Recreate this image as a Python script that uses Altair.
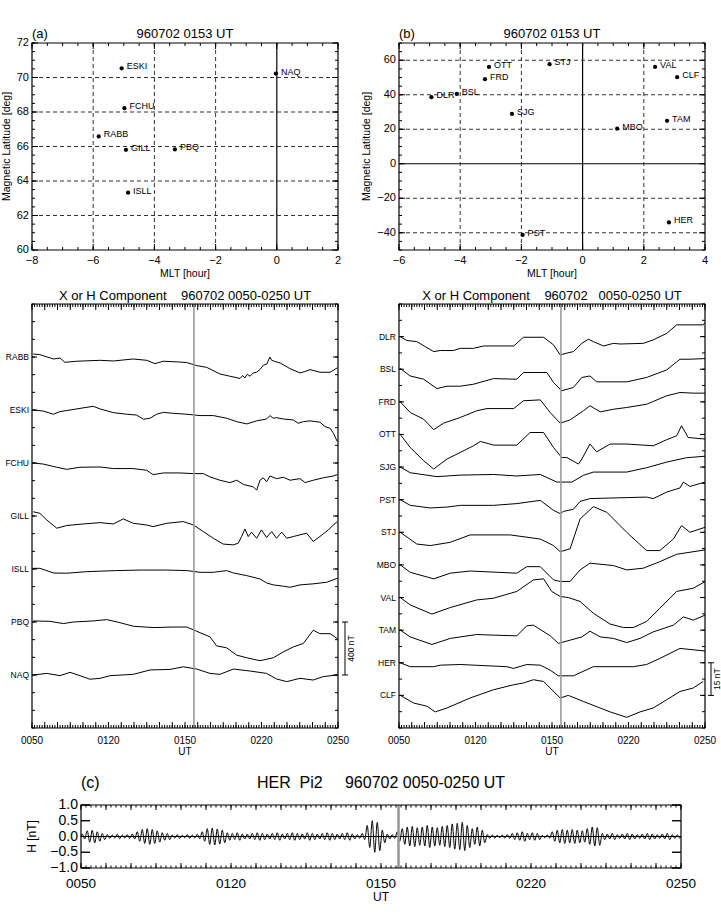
import altair as alt
import pandas as pd

FONT = "Liberation Sans"

# ---------------- station positions ----------------
A_STATIONS = ["ESKI", "NAQ", "FCHU", "RABB", "GILL", "PBQ", "ISLL"]
A_MLT = [-5.07, -0.03, -4.98, -5.82, -4.93, -3.33, -4.86]
A_MLAT = [70.53, 70.23, 68.22, 66.58, 65.81, 65.83, 63.32]

B_STATIONS = ["OTT", "STJ", "FRD", "DLR", "BSL", "SJG", "VAL", "CLF", "TAM", "MBO", "HER", "PST"]
B_MLT = [-3.06, -1.08, -3.19, -4.94, -4.11, -2.31, 2.37, 3.09, 2.76, 1.13, 2.82, -1.96]
B_MLAT = [56.1, 57.7, 49.0, 38.6, 40.5, 28.9, 56.1, 50.2, 24.9, 20.3, -34.0, -41.3]

# ---------------- H traces: (minutes after 0050 UT, deviation in nT) ----------------
RABB = [(0.5, 22), (3.1, 18), (8.4, -15), (11.0, -8), (12.9, -40), (17.5, -32), (26.7, -25), (31.9, -30),
        (39.7, -15), (45.0, -25), (48.2, -50), (51.5, -32), (58.0, -38), (60.7, -42), (64.6, -65), (68.5, -78),
        (73.7, -128), (77.6, -145), (81.6, -162), (82.6, -140), (83.5, -158), (84.4, -130), (85.5, -145),
        (86.8, -120), (88.1, -115), (89.4, -95), (90.7, -62), (92.0, -55), (93.3, 0), (94.0, -25), (95.0, -32),
        (97.3, -45), (101.2, -88), (105.1, -120), (107.0, -110), (109.0, -95), (112.9, -115), (116.9, -115),
        (119.7, -82)]
ESKI = [(0.5, 0), (4.4, -8), (8.4, -32), (11, -12), (14.9, 0), (18.8, 12), (24, 28), (26.7, 8), (31.9, -20),
        (37.1, -32), (41, -38), (43.7, -70), (46.3, -62), (48.9, -32), (51.5, -18), (55.4, -25), (60.7, -32),
        (65.9, -42), (71.1, -42), (76.3, -62), (80.3, -88), (84.2, -105), (88.1, -82), (92, -68), (93.3, -42),
        (94.6, -62), (95.9, -58), (98.6, -68), (102.5, -75), (104.4, -100), (106.4, -88), (109, -82),
        (112.9, -92), (114.9, -125), (116.9, -138), (118.2, -175), (119.7, -238)]
FCHU = [(0.5, 0), (4.4, -8), (9.7, -32), (13.6, -48), (18.8, -32), (26.7, -30), (31.9, -42), (39.7, -42),
        (45, -55), (47.5, -88), (51.5, -75), (58, -75), (63.3, -80), (67.2, -80), (69.8, -105), (73.7, -130),
        (77.6, -148), (80.3, -130), (82.9, -162), (86.8, -180), (88.1, -205), (89.4, -130), (90.7, -112),
        (92, -142), (93.3, -98), (95.9, -118), (98.6, -108), (101.2, -130), (105.1, -118), (107.1, -148),
        (110.3, -130), (114.2, -112), (118.2, -98), (119.7, -88)]
GILL = [(0.5, 32), (3.1, 20), (5.8, -30), (9.7, -92), (13.6, -72), (20.1, -60), (26.7, -50), (31.9, -60),
        (35.8, -22), (39.7, -55), (45, -68), (47.5, -80), (52.8, -55), (59.3, -42), (63.3, -68), (67.2, -118),
        (71.1, -168), (75, -212), (79, -218), (80.9, -205), (82.2, -155), (83.5, -98), (84.8, -155),
        (86.1, -122), (88.1, -168), (90, -105), (92, -162), (94, -118), (95.9, -168), (97.9, -122),
        (99.9, -168), (102.5, -155), (105.1, -142), (107.7, -130), (110.3, -192), (112.9, -155),
        (116.2, -105), (118.2, -68), (119.7, -42)]
ISLL = [(0.5, 5), (3.1, 5), (8.4, -30), (13.6, -32), (21.4, -20), (33.2, -12), (42.4, -8), (52.8, -8),
        (60.7, -12), (65.9, -25), (71.1, -25), (76.3, -12), (79, -30), (84.2, -50), (89.4, -75), (92, -105),
        (94.6, -120), (98.6, -130), (101.2, -138), (105.1, -120), (110.3, -112), (115.6, -100), (119.7, -70)]
PBQ = [(0.5, 8), (7.1, 5), (12.3, -12), (16.2, 0), (24, 8), (29.3, 18), (34.5, -5), (39.7, -32), (47.5, -42),
       (55.4, -38), (60.7, -38), (64.6, -70), (69.8, -112), (72.4, -180), (76.3, -195), (80.3, -250),
       (84.2, -270), (89.4, -292), (94.6, -270), (98.6, -225), (102.5, -188), (106.4, -162), (110.3, -62),
       (112.9, -88), (116.9, -88), (119.7, -125)]
NAQ = [(0.5, 0), (5.8, 12), (11, -5), (14.9, 20), (18.8, -5), (22.7, -32), (26.7, -25), (30.6, -5), (39.7, 5),
       (46.3, 38), (54.1, 42), (59.3, 62), (64.6, 45), (69.8, 12), (73.7, 5), (79, 45), (85.5, 30), (92, 12),
       (95.9, -30), (99.9, -50), (105.1, -25), (110.3, -38), (114.2, -12), (119.7, 0)]

DLR = [(0.5, 0), (3.1, -1.8), (7, -2.3), (10.3, -4.6), (13.6, -6.9), (16.2, -6.4), (21.4, -6.4), (24, -5.4),
       (29.2, -5.4), (33.2, -4.3), (45, -4.3), (48.8, -0.3), (56.7, -0.3), (60.6, -3.8), (63.2, -8.4),
       (65.8, -7.6), (68.4, -6.9), (71.7, -3.1), (74.3, -1.2), (76.2, -2.3), (80.2, -4.3), (84.1, -3.1),
       (86.7, -3.4), (95.8, -3.1), (99.7, -1.5), (105, 1.5), (108.9, 5.4), (119.3, 5.4), (120, 6.4)]
BSL = [(0.5, 0.3), (4.4, -3.1), (9.7, -4.6), (14.9, -8.9), (18.8, -7.8), (24, -7.8), (29.2, -6.9), (37.1, -4.3),
       (46.2, -4.6), (48.8, -1.5), (58, -1.5), (60.6, -6.1), (63.8, -9.9), (68.4, -8.4), (71.7, -3.8),
       (74.9, -3.1), (77.5, -5.8), (89.3, -5.8), (97.1, -3.8), (105, -0.3), (110.2, 4.6), (114.1, 4.6),
       (120, 4.9)]
FRD = [(0.5, 0), (4.4, -4.9), (9.7, -8), (13.6, -12.8), (17.5, -9.8), (24, -7.2), (30.5, -4.1), (34.5, -3.1),
       (45, -3.1), (48.8, 0.5), (55.4, 0.9), (59.3, -4.9), (63.2, -9.8), (67.1, -8.3), (72.3, -4.1),
       (74.9, -1.8), (78.9, -4.6), (84.1, -3.4), (89.3, -2.6), (97.1, -1.1), (105, 2.8), (110.2, 4.3),
       (115.4, 4), (120, 4)]
OTT = [(0.5, 0), (4.4, -6), (9.7, -12.1), (13.6, -15.9), (18.8, -11.3), (24, -8.3), (29.2, -5.2), (31.9, -3.2),
       (37.1, -4.9), (46.2, -4.9), (51.4, 0.9), (56.7, 0.9), (60.6, -6), (63.8, -10.6), (65.8, -10.6),
       (70.4, -13.6), (71.7, -11.3), (74.9, -4.4), (77.5, -8), (82.8, -4.4), (89.3, -4.4), (99.7, -5.2),
       (105, -2.4), (108.9, -0.6), (110.8, 4), (113.4, -1.4), (120, -2.1)]
SJG = [(0.5, 0), (4.4, -2.6), (14.9, -4.4), (24, -3.7), (37.1, -3.4), (46.2, -4.1), (55.4, -3.4), (61.9, -6.9),
       (67.8, -6.9), (72.3, -3.8), (76.2, -2.3), (89.3, -2.3), (97.1, -0.3), (105, 2.3), (112.8, 4.3), (120, 5)]
PST = [(0.5, 0), (4.4, -2.6), (12.3, -3.8), (18.8, -3.4), (24, -2.6), (37.1, -2.6), (46.2, -1.8), (55.4, -0.3),
       (60.6, -4.9), (63.2, -6.4), (64.5, -5.4), (68.4, -4.4), (71, -0.8), (74.9, 0.5), (84.1, 0.8), (97.1, 1.2),
       (99.7, 0.5), (105, 3.5), (110.2, 5.4), (111.5, 8.1), (114.1, 6.1), (120, 8.1)]
STJ = [(0.5, 0), (7, -5.4), (12.3, -6.1), (20.1, -4.6), (27.9, -1.2), (43.6, -1.2), (55.4, -3.1), (60.6, -6.1),
       (63.2, -8.9), (67.1, -7.6), (71, 6.1), (76.2, 11.8), (81.5, 9.2), (89.3, 0), (97.1, -8.4), (102.3, -8.4),
       (107.6, -3.1), (110.8, 3.1), (114.1, 0), (120, 2.3)]
MBO = [(0.5, 0), (4.4, -3.4), (13.6, -6.4), (20.1, -3.8), (27.9, -2.8), (46.2, -3.8), (50.1, -0.8), (55.4, -0.8),
       (60.6, -6.9), (63.2, -7.6), (67.1, -7.6), (71, -2.3), (74.9, 0.8), (84.1, -0.3), (89.3, -2.3),
       (95.8, -1.5), (102.3, 1.5), (108.9, 4.9), (120, 6.9)]
VAL = [(0.5, 0), (4.4, -3.4), (12.9, -7.6), (20.1, -4.6), (30.5, -1.1), (37.1, -0.3), (46.2, 2.8), (52.7, 8.1),
       (56.7, 8.6), (59.9, 2.8), (63.2, 0.5), (66.4, 0), (71, -1.8), (76.2, -7.2), (82.8, -12.2), (88, -13.8),
       (91.9, -13.8), (97.1, -11), (102.3, -4.9), (108.9, 2.8), (115.4, 4.3), (120, 7.3)]
TAM = [(0.5, 0), (4.4, -3.1), (12.9, -6.6), (20.1, -3.8), (30.5, -2), (37.1, -2.3), (46.2, -2.6), (50.1, 2),
       (52.7, 2.3), (59.3, -2.6), (62.5, -6.1), (67.1, -4.6), (71.7, -3.1), (74.9, -0.5), (78.9, -3.1),
       (84.1, -3.8), (89.3, -5.7), (94.5, -3.8), (99.7, -0.8), (107.6, 2.3), (111.5, 6.1), (115.4, 4.6),
       (120, 6.9)]
HER = [(0.5, 0), (4.4, -1.8), (13.6, -1.8), (16.2, -1.1), (24, -0.8), (42.3, -1.8), (44.9, -2.6), (50.1, -0.8),
       (55.4, -1.1), (59.3, -3.4), (62.5, -6), (68.4, -6), (76.2, -1.8), (91.9, -1.8), (97.1, -0.8),
       (102.3, 2), (110.2, 6.6), (120, 5.4)]
CLF = [(0.5, 0), (5.7, -3.5), (11, -5), (14.2, -7.6), (18.8, -5.8), (27.9, -1.2), (37.1, 2.6), (45, 4.9),
       (48.8, 5.7), (52.7, 7.2), (56.7, 6.4), (63.2, -1.2), (66.4, 0), (72.3, -2.8), (82.8, -7.6), (89.3, -10.1),
       (94.5, -7.6), (99.7, -5.8), (105, -2), (110.2, 1.8), (115.4, 3.4), (119.3, 6.4)]

LEFT_ORDER = ["RABB", "ESKI", "FCHU", "GILL", "ISLL", "PBQ", "NAQ"]
LEFT_TRACES = [RABB, ESKI, FCHU, GILL, ISLL, PBQ, NAQ]
RIGHT_ORDER = ["DLR", "BSL", "FRD", "OTT", "SJG", "PST", "STJ", "MBO", "VAL", "TAM", "HER", "CLF"]
RIGHT_TRACES = [DLR, BSL, FRD, OTT, SJG, PST, STJ, MBO, VAL, TAM, HER, CLF]
LEFT_STEP_NT = 400
RIGHT_STEP_NT = 15

# Pi2 band-pass amplitude at HER, one value per minute from 0050 UT (nT)
PI2_AMP = [0.08, 0.18, 0.2, 0.15, 0.1, 0.06, 0.05, 0.07, 0.05, 0.06,
           0.08, 0.15, 0.22, 0.25, 0.22, 0.18, 0.12, 0.1, 0.05, 0.06,
           0.04, 0.06, 0.05, 0.07, 0.15, 0.25, 0.27, 0.24, 0.2, 0.12,
           0.1, 0.12, 0.08, 0.08, 0.1, 0.12, 0.1, 0.08, 0.1, 0.12,
           0.08, 0.1, 0.12, 0.1, 0.08, 0.12, 0.1, 0.08, 0.1, 0.12,
           0.1, 0.08, 0.1, 0.12, 0.08, 0.06, 0.1, 0.35, 0.5, 0.45,
           0.2, 0.08, 0.06, 0.15, 0.25, 0.3, 0.32, 0.28, 0.3, 0.35,
           0.3, 0.28, 0.32, 0.35, 0.4, 0.42, 0.45, 0.35, 0.25, 0.3,
           0.2, 0.06, 0.05, 0.04, 0.05, 0.06, 0.1, 0.12, 0.15, 0.1,
           0.12, 0.1, 0.04, 0.05, 0.15, 0.2, 0.22, 0.2, 0.22, 0.2,
           0.18, 0.25, 0.3, 0.28, 0.1, 0.08, 0.1, 0.06, 0.08, 0.1,
           0.08, 0.06, 0.08, 0.1, 0.08, 0.06, 0.08, 0.1, 0.06, 0.05]

ONSET_T = 63.5          # 0153 UT marker, minutes after 0050 UT
T_RANGE = [0, 120]
T_LABELS = [0, 30, 60, 90, 120]

# plot rectangles on the page: (left, top, right, bottom) in pixels
BOX_A = (32, 43, 338, 250)
BOX_B = (399, 43, 705, 250)
BOX_ML = (32, 304, 338, 728)
BOX_MR = (399, 304, 705, 728)
BOX_C = (81, 805, 681, 868)


def frange(a, b, step):
    out, v = [], a
    while v <= b + 1e-9:
        out.append(round(v, 6))
        v += step
    return out


def num_label(v, fmt="g"):
    return format(v, fmt).replace("-", "\u2212")


def ut_label(v):
    m = 50 + int(v)
    return f"{m // 60:02d}{m % 60:02d}"


class Panel:
    """One plot area: its own x/y scales mapped onto a rectangle of the page."""

    def __init__(self, xlim, ylim, box):
        self.xlim, self.ylim = xlim, ylim
        self.xs = alt.Scale(domain=xlim, range=[box[0], box[2]], nice=False, zero=False)
        self.ys = alt.Scale(domain=ylim, range=[box[3], box[1]], nice=False, zero=False)
        self.xmid = (xlim[0] + xlim[1]) / 2
        self.ymid = (ylim[0] + ylim[1]) / 2
        self.layers = []

    def X(self, field):
        return alt.X(field, scale=self.xs, axis=None)

    def Y(self, field):
        return alt.Y(field, scale=self.ys, axis=None)

    def XD(self, v):
        return alt.XDatum(v, scale=self.xs, axis=None)

    def YD(self, v):
        return alt.YDatum(v, scale=self.ys, axis=None)

    def add(self, layer):
        self.layers.append(layer)

    def frame(self, width=1.2):
        self.add(alt.Chart(pd.DataFrame({"v": [0]})).mark_rect(
            fillOpacity=0, stroke="black", strokeWidth=width).encode(
            x=self.XD(self.xlim[0]), x2=alt.X2Datum(self.xlim[1]),
            y=self.YD(self.ylim[0]), y2=alt.Y2Datum(self.ylim[1])))

    def vlines(self, values, width=0.8, dash=None, color="black"):
        kw = {"strokeDash": dash} if dash else {}
        self.add(alt.Chart(pd.DataFrame({"v": values})).mark_rule(color=color, strokeWidth=width, **kw).encode(
            x=self.X("v:Q"), y=self.YD(self.ylim[0]), y2=alt.Y2Datum(self.ylim[1])))

    def hlines(self, values, width=0.8, dash=None, color="black"):
        kw = {"strokeDash": dash} if dash else {}
        self.add(alt.Chart(pd.DataFrame({"v": values})).mark_rule(color=color, strokeWidth=width, **kw).encode(
            y=self.Y("v:Q"), x=self.XD(self.xlim[0]), x2=alt.X2Datum(self.xlim[1])))

    def edge_ticks(self, values, side, length):
        base = alt.Chart(pd.DataFrame({"v": values}))
        if side in ("bottom", "top"):
            yv = self.ylim[0] if side == "bottom" else self.ylim[1]
            off = -length if side == "bottom" else length
            layer = base.mark_rule(color="black", strokeWidth=1, y2Offset=off).encode(
                x=self.X("v:Q"), y=self.YD(yv), y2=alt.Y2Datum(yv))
        else:
            xv = self.xlim[0] if side == "left" else self.xlim[1]
            off = length if side == "left" else -length
            layer = base.mark_rule(color="black", strokeWidth=1, x2Offset=off).encode(
                y=self.Y("v:Q"), x=self.XD(xv), x2=alt.X2Datum(xv))
        self.add(layer)

    def ticks(self, xmaj, xmin_, ymaj, ymin_, lx=(6, 3), ly=(6, 3)):
        for side in ("bottom", "top"):
            self.edge_ticks(xmin_, side, lx[1])
            self.edge_ticks(xmaj, side, lx[0])
        for side in ("left", "right"):
            self.edge_ticks(ymin_, side, ly[1])
            self.edge_ticks(ymaj, side, ly[0])

    def xlabels(self, values, labels, dy, size):
        self.add(alt.Chart(pd.DataFrame({"v": values, "t": labels})).mark_text(
            baseline="middle", align="center", dy=dy, fontSize=size, font=FONT, color="black").encode(
            x=self.X("v:Q"), y=self.YD(self.ylim[0]), text="t:N"))

    def ylabels(self, values, labels, dx, size):
        self.add(alt.Chart(pd.DataFrame({"v": values, "t": labels})).mark_text(
            baseline="middle", align="right", dx=dx, fontSize=size, font=FONT, color="black").encode(
            y=self.Y("v:Q"), x=self.XD(self.xlim[0]), text="t:N"))

    def xtitle(self, text, dy, size):
        self.add(alt.Chart(pd.DataFrame({"t": [text]})).mark_text(
            baseline="middle", align="center", dy=dy, fontSize=size, font=FONT, color="black").encode(
            x=self.XD(self.xmid), y=self.YD(self.ylim[0]), text="t:N"))

    def ytitle(self, text, xoff, size):
        self.add(alt.Chart(pd.DataFrame({"t": [text]})).mark_text(
            angle=270, baseline="middle", align="center", xOffset=xoff, fontSize=size, font=FONT,
            color="black").encode(x=self.XD(self.xlim[0]), y=self.YD(self.ymid), text="t:N"))

    def head(self, text, xval, align, dy, size):
        self.add(alt.Chart(pd.DataFrame({"t": [text]})).mark_text(
            align=align, baseline="alphabetic", dy=dy, fontSize=size, font=FONT, color="black").encode(
            x=self.XD(xval), y=self.YD(self.ylim[1]), text="t:N"))

    def chart(self):
        return alt.layer(*self.layers)


def map_panel(names, mlt, mlat, xlim, ylim, ymajor, yminor, grid_x, tag, zero_y, box, ytitle_off):
    p = Panel(xlim, ylim, box)
    xmaj = frange(xlim[0], xlim[1], 2)
    ymaj = frange(ylim[0] + (-ylim[0]) % ymajor, ylim[1], ymajor)
    grid_y = [v for v in ymaj if ylim[0] < v < ylim[1] and v != 0]
    p.vlines(grid_x, width=0.8, dash=[4, 3])
    p.hlines(grid_y, width=0.8, dash=[4, 3])
    p.vlines([0], width=1.2)
    if zero_y:
        p.hlines([0], width=1.2)
    df = pd.DataFrame({"name": names, "mlt": mlt, "mlat": mlat})
    p.add(alt.Chart(df).mark_point(filled=True, color="black", size=18, opacity=1).encode(
        x=p.X("mlt:Q"), y=p.Y("mlat:Q")))
    p.add(alt.Chart(df).mark_text(align="left", baseline="middle", dx=5, dy=-2, fontSize=9,
                                  font=FONT, color="black").encode(
        x=p.X("mlt:Q"), y=p.Y("mlat:Q"), text="name:N"))
    p.ticks(xmaj, frange(xlim[0], xlim[1], 0.5), ymaj, frange(ylim[0], ylim[1], yminor))
    p.frame()
    p.xlabels(xmaj, [num_label(v) for v in xmaj], 11, 11)
    p.ylabels(ymaj, [num_label(v) for v in ymaj], -3, 11)
    p.xtitle("MLT [hour]", 24, 10.5)
    p.ytitle("Magnetic Latitude [deg]", ytitle_off, 10.5)
    p.head(tag, xlim[0], "left", -5, 13)
    p.head("960702 0153 UT", p.xmid, "center", -5, 13)
    return p.chart()


def stack_panel(order, traces, step, minor_div, bar_off, title, box):
    n = len(order)
    ylim = [0, (n + 1) * step]
    p = Panel(T_RANGE, ylim, box)
    rows = []
    for k, (name, tr) in enumerate(zip(order, traces)):
        base = (n - k) * step
        for t, d in tr:
            rows.append({"station": name, "t": t, "v": base + d})
    df = pd.DataFrame(rows)
    bases = [(n - k) * step for k in range(n)]

    p.add(alt.Chart(df).mark_line(color="black", strokeWidth=1).encode(
        x=p.X("t:Q"), y=p.Y("v:Q"), detail="station:N", order="t:Q"))
    p.vlines([ONSET_T], width=1.6, color="#9a9a9a")
    p.ylabels(bases, order, -3, 8.5)

    lo, hi = step, 2 * step
    p.add(alt.Chart(pd.DataFrame({"lo": [lo], "hi": [hi]})).mark_rule(
        color="black", strokeWidth=1, xOffset=bar_off).encode(
        x=p.XD(120), y=p.Y("lo:Q"), y2="hi:Q"))
    p.add(alt.Chart(pd.DataFrame({"v": [lo, hi]})).mark_rule(
        color="black", strokeWidth=1, xOffset=bar_off - 3, x2Offset=bar_off + 3).encode(
        x=p.XD(120), x2=alt.X2Datum(120), y=p.Y("v:Q")))
    p.add(alt.Chart(pd.DataFrame({"t": [f"{step} nT"], "y": [(lo + hi) / 2]})).mark_text(
        angle=270, align="center", baseline="middle", xOffset=bar_off + 6, fontSize=8.5, font=FONT,
        color="black").encode(x=p.XD(120), y=p.Y("y:Q"), text="t:N"))

    ymin_ = [round(i * step / minor_div, 6) for i in range(0, (n + 1) * minor_div + 1)]
    p.ticks(frange(0, 120, 5), frange(0, 120, 1), bases, ymin_, lx=(6, 3), ly=(5, 3))
    p.frame()
    p.xlabels(T_LABELS, [ut_label(v) for v in T_LABELS], 12.5, 10)
    p.xtitle("UT", 24, 10)
    p.head(title, 60, "center", -4, 13)
    return p.chart()


def pi2_panel(box):
    p = Panel(T_RANGE, [-1, 1], box)
    ts, vs = [0.0], [0.0]
    for i, a in enumerate(PI2_AMP):
        ts += [i + 0.25, i + 0.75]
        vs += [a, -a]
    ts.append(120.0)
    vs.append(0.0)
    df = pd.DataFrame({"t": ts, "h": vs})
    p.add(alt.Chart(df).mark_line(color="black", strokeWidth=1, interpolate="monotone").encode(
        x=p.X("t:Q"), y=p.Y("h:Q"), order="t:Q"))
    p.hlines([0], width=1)
    p.vlines([ONSET_T], width=2.6, color="#9a9a9a")
    yv = [-1, -0.5, 0, 0.5, 1]
    p.ticks(frange(0, 120, 5), frange(0, 120, 1), yv, yv, lx=(5, 2.5), ly=(9, 9))
    p.frame()
    p.xlabels(T_LABELS, [ut_label(v) for v in T_LABELS], 16, 13.5)
    p.ylabels(yv, [num_label(v, ".1f") for v in yv], -3, 14)
    p.xtitle("UT", 29, 12)
    p.ytitle("H [nT]", -49, 12)
    p.head("(c)", 0, "left", -17, 16)
    p.head("HER\u00a0\u00a0Pi2\u00a0\u00a0\u00a0\u00a0\u00a0960702\u00a00050-0250\u00a0UT", 60, "center", -17, 16)
    return p.chart()


panel_a = map_panel(A_STATIONS, A_MLT, A_MLAT, [-8, 2], [60, 72], 2, 0.5, [-6, -4, -2], "(a)", False,
                    BOX_A, -25)
panel_b = map_panel(B_STATIONS, B_MLT, B_MLAT, [-6, 4], [-50, 70], 20, 5, [-4, -2, 2], "(b)", True,
                    BOX_B, -32)

mid_title_l = "X or H Component\u00a0\u00a0\u00a0\u00a0960702\u00a00050-0250\u00a0UT"
mid_title_r = "X or H Component\u00a0\u00a0\u00a0\u00a0960702\u00a0\u00a0\u00a00050-0250\u00a0UT"
mid_left = stack_panel(LEFT_ORDER, LEFT_TRACES, LEFT_STEP_NT, 3, 7, mid_title_l, BOX_ML)
mid_right = stack_panel(RIGHT_ORDER, RIGHT_TRACES, RIGHT_STEP_NT, 2, 6, mid_title_r, BOX_MR)
panel_c = pi2_panel(BOX_C)

chart = alt.layer(panel_a, panel_b, mid_left, mid_right, panel_c).resolve_scale(
    x="independent", y="independent"
).properties(
    width=721, height=916,
    autosize=alt.AutoSizeParams(type="none"),
    padding=0,
    background="white",
).configure_view(
    strokeOpacity=0
)

chart.save("out.html", embed_options={"renderer": "svg", "actions": False})
